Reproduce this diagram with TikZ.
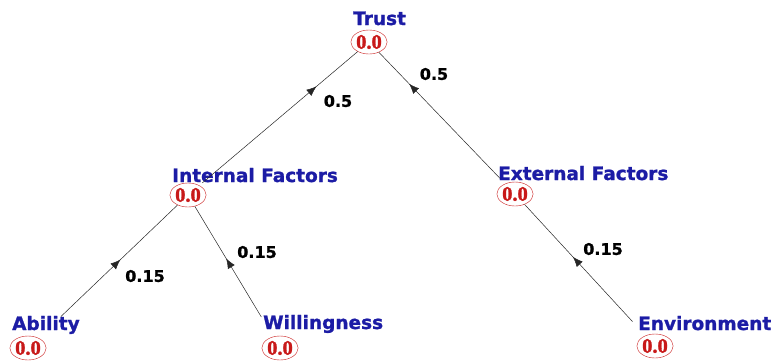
\documentclass[tikz,border=0pt]{standalone}
\usepackage{fontspec}
\newfontfamily\labfont[FakeBold=1.2]{DejaVu Sans}
\newfontfamily\valfont[FakeBold=1.5]{Liberation Serif}
\usetikzlibrary{arrows.meta,decorations.markings,shapes.geometric}
\definecolor{labblue}{RGB}{28,28,165}
\definecolor{valred}{RGB}{200,25,25}
\begin{document}
\begin{tikzpicture}[x=1pt,y=-1pt,
  lab/.style={font=\labfont\bfseries\fontsize{18.5}{20}\selectfont, text=labblue, anchor=base west, inner sep=0},
  val/.style={ellipse, draw=valred, line width=0.4pt, minimum width=33pt, minimum height=24pt, inner sep=0, font=\valfont\bfseries\fontsize{20.5}{22}\selectfont, text=valred},
  wt/.style={font=\labfont\bfseries\fontsize{16}{18}\selectfont, inner sep=0},
  edge/.style={draw=black!85, line width=0.5pt},
  tip/.style={postaction={decorate, decoration={markings, mark=at position #1 with {\arrow{Latex[length=10pt,width=8pt]}}}}}
]
\useasboundingbox (0,0) rectangle (781,360);
\node[val] (tr) at (369,42) {0.0};
\node[lab] (trl) at (353,25) {Trust};
\node[val] (in) at (188,195) {0.0};
\node[lab] (inl) at (172,182) {Internal Factors};
\node[val] (ex) at (515,194) {0.0};
\node[lab] (exl) at (498,180) {External Factors};
\node[val] (ab) at (28,348) {0.0};
\node[lab] (abl) at (12,330) {Ability};
\node[val] (wi) at (280,348) {0.0};
\node[lab] (wil) at (263,329) {Willingness};
\node[val] (en) at (655,346) {0.0};
\node[lab] (enl) at (638,330) {Environment};

\draw[edge, tip=0.59, shorten <=31pt] (ab) -- (in);
\draw[edge, tip=0.60, shorten <=23pt] (wi) -- (in);
\draw[edge, tip=0.60, shorten <=19pt] (en) -- (ex);
\draw[edge, tip=0.74, shorten <=4pt] (in) -- (tr);
\draw[edge, tip=0.76, shorten <=7pt] (ex) -- (tr);

\node[wt] (w1) at (338,101) {0.5};
\node[wt] (w2) at (434,74) {0.5};
\node[wt] (w3) at (145,276) {0.15};
\node[wt] (w4) at (257,252) {0.15};
\node[wt] (w5) at (603,249) {0.15};
\end{tikzpicture}
\end{document}
